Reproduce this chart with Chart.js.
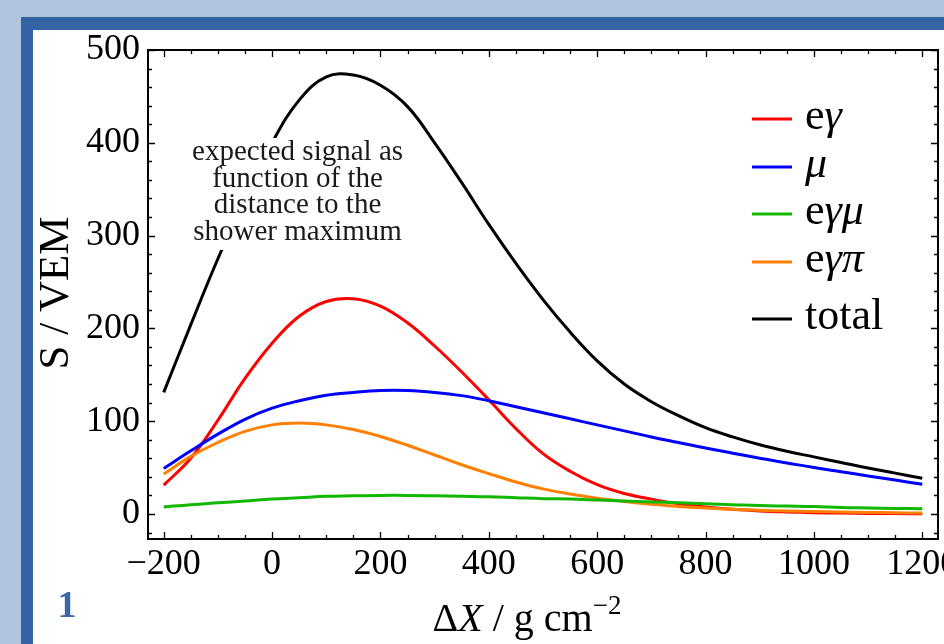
<!DOCTYPE html>
<html>
<head>
<meta charset="utf-8">
<script src="https://cdn.jsdelivr.net/npm/chart.js@4.4.1/dist/chart.umd.min.js"></script>
<style>
  html, body { margin:0; padding:0; width:944px; height:644px; overflow:hidden; background:#afc5de; }
  #frame { position:absolute; left:21px; top:17px; width:960px; height:660px; background:#ffffff;
           border-left:12px solid #3564a5; border-top:13px solid #3564a5; }
  #c { position:absolute; left:0; top:0; }
</style>
</head>
<body>
<div id="frame"></div>
<canvas id="c" width="944" height="644"></canvas>
<script>
// ---- data ----
const xValues   = [-200,-150,-100,-50,0,50,100,150,200,250,300,350,400,450,500,550,600,650,700,750,800,850,900,950,1000,1050,1100,1150,1200];
const eGamma    = [31,60,101,146,184,213,229,232,224,206,181,153,123,92,65,46,31.5,22,16,11,7.5,5,3.3,2.2,1.4,0.9,0.6,0.4,0.2];
const muon      = [49,68,86,102,114,122,128,131,133,133,131,127.5,122,115.5,109,102.5,96,89.5,83,77,71,65.5,60,55,50,45.5,41,36.5,32];
const eGammaMu  = [7.5,10,12,14,16,17.5,19,19.5,20,20,19.5,19,18.5,17.5,16.5,16,15,14,13,12,11,10,9,8.5,8,7,6.5,6,5.5];
const eGammaPi  = [43,62,77,89,96,98,96,91,83.5,74,63.5,53,43.5,34.5,27,21.5,17,13.5,10.5,8,6.5,5,4,3.2,2.6,2,1.6,1.3,1];
const totalSig  = [131,204,275,340,400,446,471,473,462,439,400,357,312,270,231,196,165,140,121,106,93,83,74.5,67.5,61.5,55.5,49.5,44,38.5];
const seriesLabels = ['eγ','μ','eγμ','eγπ','total'];
const seriesColors = ['#ff0000','#0000ff','#12b800','#ff8000','#000000'];
const xTicks = [-200,0,200,400,600,800,1000,1200];
const yTicks = [0,100,200,300,400,500];
const annotationLines = ['expected signal as','function of the','distance to the','shower maximum'];

const seriesValues = [eGamma, muon, eGammaMu, eGammaPi, totalSig];
const drawOrder = [4, 3, 1, 2, 0]; // smaller = on top
const datasets = seriesValues.map((vals, i) => ({
  label: seriesLabels[i],
  data: vals.map((v, k) => ({x: xValues[k], y: v})),
  borderColor: seriesColors[i],
  borderWidth: 3,
  pointRadius: 0,
  fill: false,
  tension: 0.4,
  order: drawOrder[i]
}));

const SERIF = "'Liberation Serif', 'Times New Roman', serif";
const fmt = v => (v < 0 ? '\u2212' + Math.abs(v) : String(v));

function drawRich(ctx, text, x, y, size) {
  let cx = x;
  for (const ch of text) {
    const it = /[\u03b1-\u03c9]/.test(ch);
    ctx.font = (it ? 'italic ' : '') + size + 'px ' + SERIF;
    ctx.fillText(ch, cx, y);
    cx += ctx.measureText(ch).width;
  }
}

const framePlugin = {
  id: 'framePlugin',
  afterDatasetsDraw(chart) {
    const ctx = chart.ctx, a = chart.chartArea;
    const xs = chart.scales.x;
    // annotation with white box
    ctx.save();
    const cx = xs.getPixelForValue(47);
    ctx.fillStyle = '#ffffff';
    ctx.fillRect(cx - 115, a.top + 88, 230, 112);
    ctx.fillStyle = '#1a1a1a';
    ctx.font = '29px ' + SERIF;
    ctx.textAlign = 'center';
    ctx.textBaseline = 'alphabetic';
    annotationLines.forEach((t, i) => ctx.fillText(t, cx, a.top + 110 + i * 26.7));
    ctx.restore();
    // legend
    ctx.save();
    const rowY = [119, 167, 214, 262, 319];
    const lx = a.right - 186;
    seriesLabels.forEach((lab, i) => {
      const yy = rowY[i];
      ctx.strokeStyle = seriesColors[i];
      ctx.lineWidth = 3;
      ctx.beginPath(); ctx.moveTo(lx, yy); ctx.lineTo(lx + 40, yy); ctx.stroke();
      ctx.fillStyle = '#000';
      ctx.textBaseline = 'alphabetic';
      ctx.textAlign = 'left';
      drawRich(ctx, lab, lx + 53, yy + 10, 44);
    });
    ctx.restore();
  },
  afterDraw(chart) {
    const ctx = chart.ctx, a = chart.chartArea;
    const xs = chart.scales.x, ys = chart.scales.y;
    ctx.save();
    ctx.strokeStyle = '#000';
    ctx.lineWidth = 2;
    ctx.strokeRect(a.left, a.top, a.right - a.left, a.bottom - a.top);
    ctx.lineWidth = 1.3;
    ctx.beginPath();
    for (let v = -200; v <= 1200; v += 50) {
      const p = Math.round(xs.getPixelForValue(v)) + 0.5;
      const L = (v % 200 === 0) ? 7 : 4;
      ctx.moveTo(p, a.bottom); ctx.lineTo(p, a.bottom - L);
      ctx.moveTo(p, a.top); ctx.lineTo(p, a.top + L);
    }
    for (let v = -20; v <= 500; v += 20) {
      const p = Math.round(ys.getPixelForValue(v)) + 0.5;
      const L = (v % 100 === 0) ? 7 : 4;
      ctx.moveTo(a.left, p); ctx.lineTo(a.left + L, p);
      ctx.moveTo(a.right, p); ctx.lineTo(a.right - L, p);
    }
    ctx.stroke();
    ctx.fillStyle = '#000';
    ctx.textBaseline = 'alphabetic';
    // y title
    ctx.save();
    ctx.translate(68, 293);
    ctx.rotate(-Math.PI / 2);
    ctx.textAlign = 'center';
    ctx.font = '43px ' + SERIF;
    ctx.fillText('S / VEM', 0, 0);
    ctx.restore();
    // x title
    const parts = [
      {t: '\u0394', f: '40px ' + SERIF, dy: 0},
      {t: 'X', f: 'italic 40px ' + SERIF, dy: 0},
      {t: ' / g cm', f: '40px ' + SERIF, dy: 0},
      {t: '\u22122', f: '27px ' + SERIF, dy: -17}
    ];
    let w = 0;
    parts.forEach(p => { ctx.font = p.f; w += ctx.measureText(p.t).width; });
    let x0 = 527 - w / 2;
    ctx.textAlign = 'left';
    parts.forEach(p => { ctx.font = p.f; ctx.fillText(p.t, x0, 631 + p.dy); x0 += ctx.measureText(p.t).width; });
    // slide number
    ctx.fillStyle = '#3a68a8';
    ctx.font = 'bold 38px ' + SERIF;
    ctx.textAlign = 'center';
    ctx.fillText('1', 67, 617);
    ctx.restore();
  }
};

new Chart(document.getElementById('c'), {
  type: 'line',
  data: { datasets },
  plugins: [framePlugin],
  options: {
    responsive: false,
    animation: false,
    devicePixelRatio: 1,
    layout: { autoPadding: false, padding: { left: 0, top: 50, right: 6, bottom: 0 } },
    plugins: { legend: { display: false }, tooltip: { enabled: false } },
    scales: {
      x: {
        type: 'linear', min: -229, max: 1229,
        afterBuildTicks: s => { s.ticks = xTicks.map(v => ({ value: v })); },
        afterFit: s => { s.height = 105; s.paddingLeft = 0; s.paddingRight = 0; },
        grid: { display: false, drawTicks: false },
        border: { display: false },
        ticks: { color: '#000', font: { family: SERIF, size: 36 }, padding: 4, maxRotation: 0, autoSkip: false, callback: v => fmt(v) }
      },
      y: {
        type: 'linear', min: -27, max: 500,
        afterBuildTicks: s => { s.ticks = yTicks.map(v => ({ value: v })); },
        afterFit: s => { s.width = 148; s.paddingTop = 0; s.paddingBottom = 0; },
        grid: { display: false, drawTicks: false },
        border: { display: false },
        ticks: { color: '#000', font: { family: SERIF, size: 36 }, padding: 8, autoSkip: false, callback: v => fmt(v) }
      }
    }
  }
});
</script>
</body>
</html>
